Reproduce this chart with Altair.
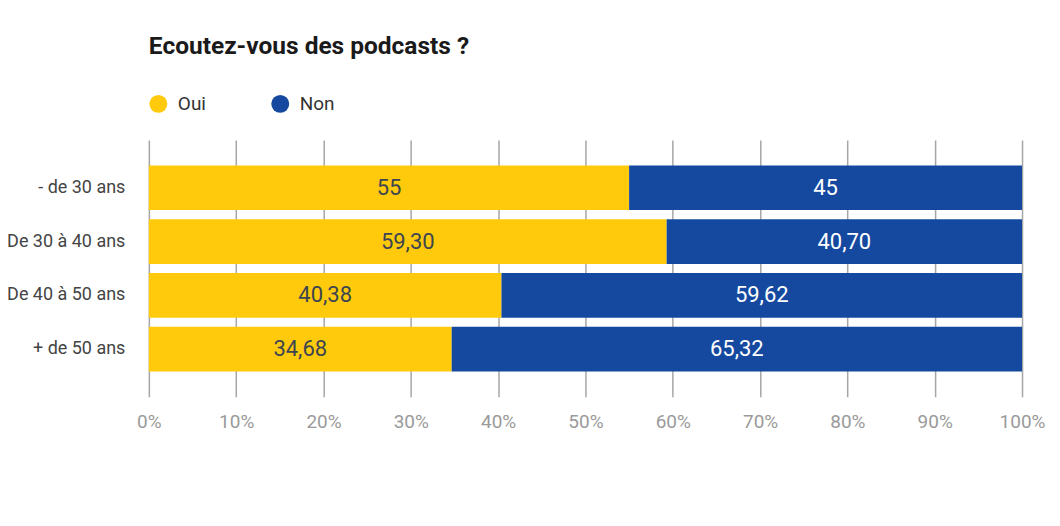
import altair as alt
import pandas as pd

categories = ["- de 30 ans", "De 30 à 40 ans", "De 40 à 50 ans", "+ de 50 ans"]
oui_values = [55, 59.30, 40.38, 34.68]
non_values = [45, 40.70, 59.62, 65.32]
oui_labels = ["55", "59,30", "40,38", "34,68"]
non_labels = ["45", "40,70", "59,62", "65,32"]
series = ["Oui", "Non"]
colors = ["#FFCA0C", "#1549A0"]

rows = []
for i, c in enumerate(categories):
    rows.append({"cat": c, "serie": "Oui", "value": oui_values[i], "label": oui_labels[i], "ord": 0})
    rows.append({"cat": c, "serie": "Non", "value": non_values[i], "label": non_labels[i], "ord": 1})
df = pd.DataFrame(rows)

FONT = "Roboto"

y_enc = alt.Y("cat:N", sort=categories, title=None,
              scale=alt.Scale(paddingInner=0.17, paddingOuter=0.47),
              axis=alt.Axis(domain=False, ticks=False, labelPadding=24, labelFontSize=18,
                            labelColor="#444444", labelFont=FONT, grid=False))

base = alt.Chart(df).transform_stack(
    stack="value", groupby=["cat"], as_=["x0", "x1"], sort=[alt.SortField("ord")]
)

bars = base.mark_bar().encode(
    y=y_enc,
    x=alt.X("x0:Q", scale=alt.Scale(domain=[0, 100], nice=False),
            title=None,
            axis=alt.Axis(values=list(range(0, 101, 10)), labelExpr="datum.value + '%'",
                          domain=False, ticks=False, grid=True, gridColor="#a6a6a6",
                          gridWidth=1.5, labelPadding=16, labelFontSize=19,
                          labelColor="#9a9a9a", labelFont=FONT, labelFlush=False)),
    x2="x1:Q",
    color=alt.Color("serie:N", sort=series,
                    scale=alt.Scale(domain=series, range=colors),
                    legend=alt.Legend(title=None, orient="none", legendX=0, legendY=-46,
                                      direction="horizontal", symbolType="circle",
                                      symbolSize=324, symbolStrokeWidth=0,
                                      labelFontSize=19, labelColor="#333333",
                                      labelFont=FONT, labelOffset=10,
                                      columnPadding=58, gridAlign="all", columns=2)),
)

texts = base.transform_calculate(
    mid="(datum.x0 + datum.x1) / 2",
    tcol="datum.serie == 'Oui' ? '#3d4550' : '#ffffff'",
).mark_text(fontSize=22, font=FONT).encode(
    y=alt.Y("cat:N", sort=categories),
    x=alt.X("mid:Q"),
    text="label:N",
    color=alt.Color("tcol:N", scale=None),
)

chart = alt.layer(bars, texts).properties(
    width=874, height=257,
    autosize=alt.AutoSizeParams(type="none"),
    padding={"left": 141, "top": 132, "right": 30, "bottom": 60},
    title=alt.TitleParams("Ecoutez-vous des podcasts ?", anchor="start", frame="group",
                          fontSize=24.5, fontWeight="bold", font=FONT, color="#1a1a1a",
                          offset=35),
).configure_view(stroke=None)

chart.save("out.html", embed_options={"renderer": "svg", "actions": False})
